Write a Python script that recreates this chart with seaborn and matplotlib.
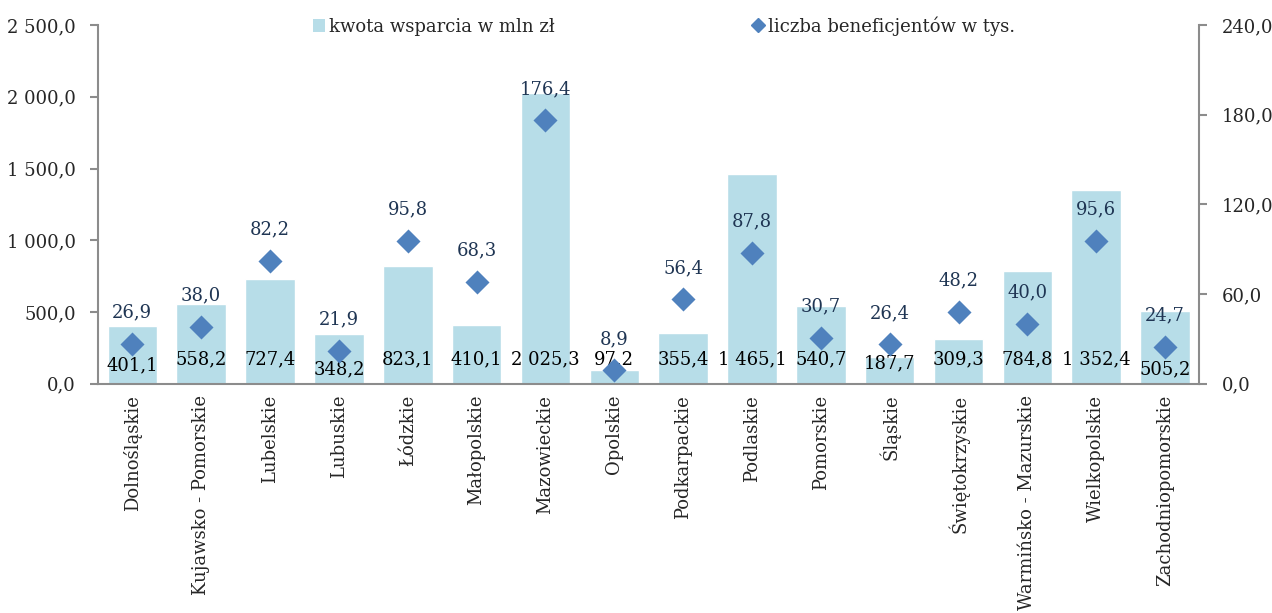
import pandas as pd
import numpy as np
import seaborn as sns
import matplotlib.pyplot as plt
from matplotlib.ticker import FuncFormatter
from matplotlib.lines import Line2D
from matplotlib.patches import Patch

regions = ["Dolnośląskie", "Kujawsko - Pomorskie", "Lubelskie", "Lubuskie", "Łódzkie",
           "Małopolskie", "Mazowieckie", "Opolskie", "Podkarpackie", "Podlaskie",
           "Pomorskie", "Śląskie", "Świętokrzyskie", "Warmińsko - Mazurskie",
           "Wielkopolskie", "Zachodniopomorskie"]
kwota = [401.1, 558.2, 727.4, 348.2, 823.1, 410.1, 2025.3, 97.2, 355.4, 1465.1,
         540.7, 187.7, 309.3, 784.8, 1352.4, 505.2]
beneficjenci = [26.9, 38.0, 82.2, 21.9, 95.8, 68.3, 176.4, 8.9, 56.4, 87.8,
                30.7, 26.4, 48.2, 40.0, 95.6, 24.7]

# small manual nudges (in points) of the amount labels, as in the original
label_nudge = [-4, 0, 0, -7, 0, 0, 0, 0, 0, 0, 0, -3, 0, 0, 0, -7]

BAR_COLOR = "#b7dde8"
DOT_COLOR = "#4f81bd"
AXIS_GREY = "#8c8c8c"


def pl_fmt(v, pos=None):
    s = f"{v:,.1f}"
    return s.replace(",", " ").replace(".", ",")


df = pd.DataFrame({"region": regions, "kwota": kwota, "benef": beneficjenci})

sns.set_style("white")
plt.rcParams["font.family"] = ["DejaVu Serif"]
plt.rcParams["font.size"] = 13

fig = plt.figure(figsize=(12.72, 6.13), dpi=100)
ax = fig.add_axes([0.077, 0.374, 0.866, 0.585])
ax2 = ax.twinx()

sns.barplot(data=df, x="region", y="kwota", color=BAR_COLOR, width=0.72,
            saturation=1, ax=ax)
x = np.arange(len(regions))
sns.scatterplot(x=x, y=df["benef"], marker="D", s=150, color=DOT_COLOR,
                edgecolor=DOT_COLOR, linewidth=0, ax=ax2, zorder=5)

ax.set_ylim(0, 2500)
ax2.set_ylim(0, 240)
ax.set_xlim(-0.5, len(regions) - 0.5)
ax.set_yticks(np.arange(0, 2501, 500))
ax2.set_yticks(np.arange(0, 241, 60))
ax.yaxis.set_major_formatter(FuncFormatter(pl_fmt))
ax2.yaxis.set_major_formatter(FuncFormatter(pl_fmt))
ax.set_xlabel("")
ax.set_ylabel("")
ax2.set_ylabel("")

ax.set_xticks(x)
ax.set_xticklabels(regions, rotation=90, fontsize=13)
ax.set_xticks(np.arange(-0.5, len(regions)), minor=True)
ax.tick_params(axis="x", which="major", length=0, pad=8)
ax.tick_params(axis="x", which="minor", length=6, width=1.5, color=AXIS_GREY, direction="out")
ax.tick_params(axis="y", length=6, width=1.5, color=AXIS_GREY, direction="out", labelsize=13, pad=10)
ax2.tick_params(axis="y", length=6, width=1.5, color=AXIS_GREY, direction="out", labelsize=13, pad=10)

for a in (ax, ax2):
    a.spines["top"].set_visible(False)
    for s in ("left", "right", "bottom"):
        a.spines[s].set_color(AXIS_GREY)
        a.spines[s].set_linewidth(1.5)
ax.spines["right"].set_visible(False)
ax2.spines["left"].set_visible(False)
ax2.spines["bottom"].set_visible(False)

# data labels: amounts near the bar base, beneficiaries above the diamonds
for i, (k, b) in enumerate(zip(kwota, beneficjenci)):
    ax.annotate(pl_fmt(k), (i, 0), xytext=(0, 17.5 + label_nudge[i]),
                textcoords="offset points", ha="center", va="center",
                fontsize=13, color="#000000")
    ax2.annotate(pl_fmt(b), (i, b), xytext=(0, 22.5),
                 textcoords="offset points", ha="center", va="center",
                 fontsize=13, color="#1f3553", zorder=6)

handles = [Patch(facecolor=BAR_COLOR, edgecolor="none"),
           Line2D([], [], marker="D", color=DOT_COLOR, linestyle="none", markersize=7)]
fig.legend(handles, ["kwota wsparcia w mln zł", "liczba beneficjentów w tys."],
           loc="upper left", bbox_to_anchor=(0.233, 1.0), ncol=2, frameon=False,
           fontsize=13, columnspacing=10.9, handlelength=0.7, handleheight=0.7,
           handletextpad=0.2)

fig.savefig("out.png", dpi=100)
